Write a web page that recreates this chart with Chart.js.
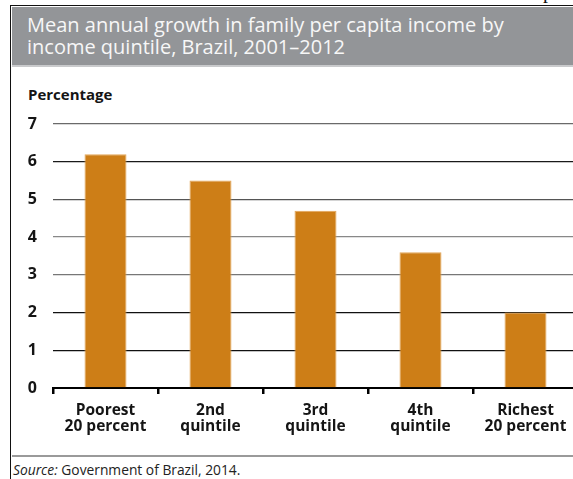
<!DOCTYPE html>
<html>
<head>
<meta charset="utf-8">
<script src="https://cdn.jsdelivr.net/npm/chart.js@4.4.1/dist/chart.umd.min.js"></script>
<style>
  html, body { margin: 0; padding: 0; background: #fff; overflow: hidden; }
  body { width: 573px; height: 479px; position: relative; font-family: "Open Sans", sans-serif; }
  .frame-top { position: absolute; left: 11px; top: 5px; width: 570px; height: 0; border-top: 1.5px solid #111; }
  .frame-left { position: absolute; left: 10px; top: 5px; width: 0; height: 480px; border-left: 1.5px solid #111; }
  .stray { position: absolute; left: 543px; top: -20px; font: 20px "Liberation Serif", serif; color: #111; }
  .header { position: absolute; left: 12px; top: 7px; width: 570px; height: 58px; background: #939598; border-bottom: 2px solid #c9cacc; }
  .header h1 { margin: 0; padding: 7px 0 0 15px; font-weight: 400; font-size: 20px; line-height: 22px; color: #f7f7f7; }
  .unit { position: absolute; left: 28px; top: 84px; font-weight: 700; font-size: 15px; color: #151515; }
  .chart-box { position: absolute; left: 12px; top: 70px; width: 580px; height: 384px; }
  .footer-rule { position: absolute; left: 12px; top: 455px; width: 570px; height: 0; border-top: 2.5px solid #9a9a9a; }
  .source { position: absolute; left: 13px; top: 460px; font-size: 13.8px; color: #222; }
</style>
</head>
<body>
<div class="frame-top"></div>
<div class="frame-left"></div>
<div class="stray">p</div>
<div class="header"><h1>Mean annual growth in family per capita income by<br>income quintile, Brazil, 2001–2012</h1></div>
<div class="unit">Percentage</div>
<div class="chart-box"><canvas id="growthChart" width="580" height="384"></canvas></div>
<div class="footer-rule"></div>
<div class="source"><i>Source:</i> Government of Brazil, 2014.</div>

<script>
const quintiles = [
    ['Poorest', '20 percent'],
    ['2nd', 'quintile'],
    ['3rd', 'quintile'],
    ['4th', 'quintile'],
    ['Richest', '20 percent']
];
const growthRates = [6.2, 5.5, 4.7, 3.6, 2.0];
const yTicks = [0, 1, 2, 3, 4, 5, 6, 7];

// gridline shades, bottom to top
const gridShades = ['#000', '#111', '#111', '#777', '#888', '#555', '#1a1a1a', '#6a6a6a'];

const ctx = document.getElementById('growthChart').getContext('2d');
const growthChart = new Chart(ctx, {
    type: 'bar',
    data: {
        labels: quintiles,
        datasets: [{
            data: growthRates,
            backgroundColor: '#cd7e17',
            borderColor: '#e3a65a',
            borderWidth: 1,
            barPercentage: 0.4,
            categoryPercentage: 1
        }]
    },
    options: {
        responsive: false,
        animation: false,
        layout: { padding: { top: 54, right: 14, left: 0, bottom: 0 } },
        plugins: {
            legend: { display: false },
            tooltip: { enabled: false }
        },
        scales: {
            x: {
                offset: true,
                grid: {
                    drawOnChartArea: false,
                    drawTicks: true,
                    tickLength: 6,
                    color: '#000',
                    lineWidth: 2.5
                },
                border: { display: true, color: '#000', width: 2 },
                ticks: {
                    color: '#151515',
                    padding: 8,
                    maxRotation: 0,
                    font: { family: 'Open Sans', weight: '700', size: 15.5, lineHeight: 1.05 }
                },
                afterFit: scale => { scale.height = 66; }
            },
            y: {
                min: 0,
                max: 7,
                afterBuildTicks: scale => { scale.ticks = yTicks.map(v => ({ value: v })); },
                grid: {
                    drawTicks: false,
                    tickLength: 0,
                    lineWidth: 1.3,
                    color: c => gridShades[c.index] || '#333'
                },
                border: { display: false },
                ticks: {
                    color: '#151515',
                    padding: 16,
                    font: { family: 'Open Sans', weight: '700', size: 16 }
                },
                afterFit: scale => { scale.width = 41; }
            }
        }
    }
});
</script>
</body>
</html>
